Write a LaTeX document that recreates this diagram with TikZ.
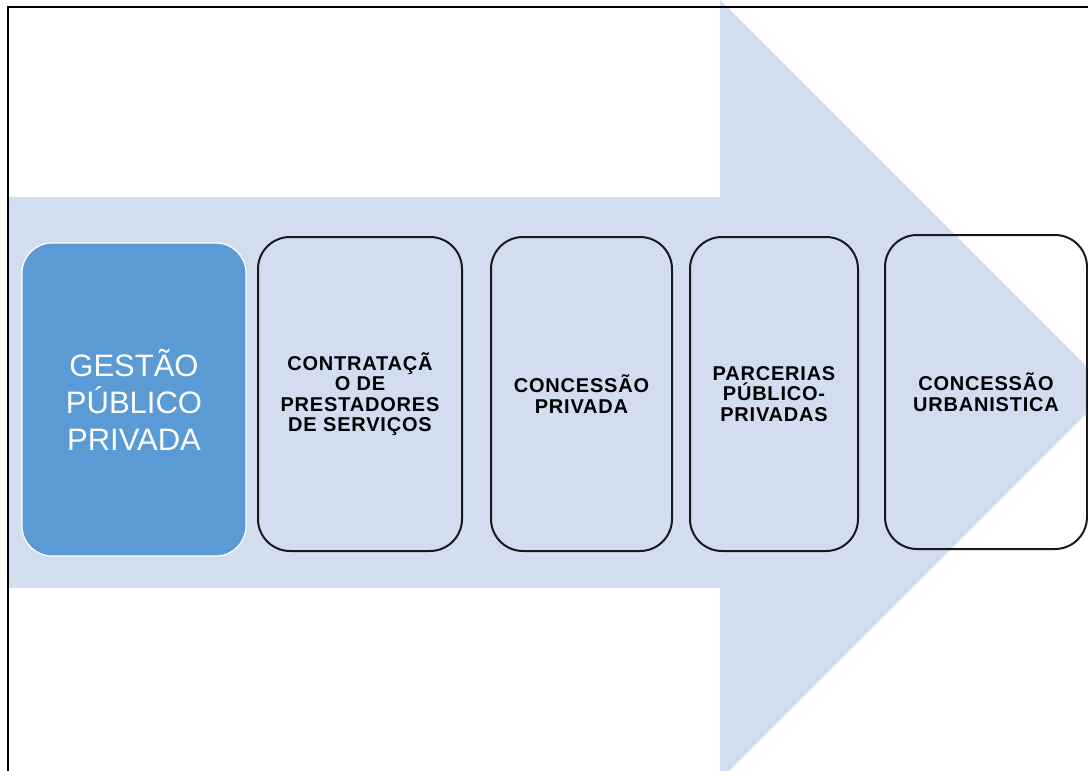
\documentclass[tikz,border=0pt]{standalone}
\usepackage{fontspec}
\setmainfont{Liberation Sans}
\newfontfamily\lblfont{Liberation Sans}[LetterSpace=4]
\definecolor{arrowblue}{RGB}{210,222,239}
\definecolor{boxblue}{RGB}{91,155,213}
\tikzset{
  mainbox/.style={rectangle, rounded corners=30pt, fill=boxblue, draw=white, line width=1.2pt,
    inner sep=0pt, align=center, text=white, font=\fontsize{31}{37}\selectfont},
  stagebox/.style={rectangle, rounded corners=32pt, draw=black!90, line width=2pt,
    inner sep=0pt, align=center, text=black, minimum height=314pt,
    font=\lblfont\bfseries\fontsize{20}{20.5}\selectfont},
  frameline/.style={draw=black, line width=2.6pt}
}
\begin{document}
\begin{tikzpicture}[x=1pt,y=-1pt]
\useasboundingbox (0,0) rectangle (1088,771);
\clip (0,0) rectangle (1088,771);
\fill[white] (0,0) rectangle (1088,771);
% big arrow
\fill[arrowblue] (8,197) -- (720,197) -- (720,0) -- (1110,390) -- (720,780) -- (720,588) -- (8,588) -- cycle;
% frame
\draw[frameline] (8,790) -- (8,7) -- (1100,7);
% boxes
\node[mainbox, minimum width=224pt, minimum height=313pt] (gpp) at (134,399.5) {GESTÃO\\PÚBLICO\\PRIVADA};
\node[stagebox, minimum width=204pt] (contr) at (360,394) {CONTRATAÇÃ\\O DE\\PRESTADORES\\DE SERVIÇOS};
\node[stagebox, minimum width=181pt] (cpriv) at (581.5,394) {CONCESSÃO\\PRIVADA};
\node[stagebox, minimum width=168pt] (ppp) at (774,394) {PARCERIAS\\PÚBLICO-\\PRIVADAS};
\node[stagebox, minimum width=202pt] (curb) at (986,392) {CONCESSÃO\\URBANISTICA};
\end{tikzpicture}
\end{document}
